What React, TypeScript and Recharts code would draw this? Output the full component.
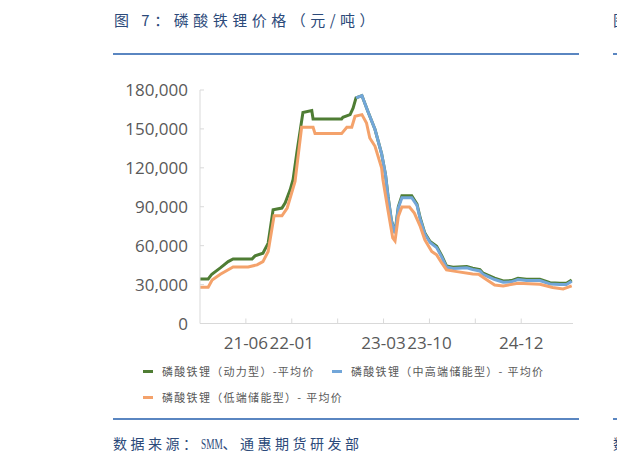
import { Line, LineChart, XAxis, YAxis } from 'recharts'

// 磷酸铁锂价格（元/吨）— x = months since 2020-11

const X_TICKS = [7, 14, 21, 28, 35, 42, 49]
const X_LABELS: Record<number, string> = { 7: '21-06', 14: '22-01', 28: '23-03', 35: '23-10', 49: '24-12' }
const Y_TICKS = [0, 30000, 60000, 90000, 120000, 150000, 180000]

const powerMonths = [
  0, 1.25, 1.8, 3.1, 4.3, 5.05, 7.95, 8.4, 9.6, 10.4, 11.15, 12.5, 13, 13.75, 14.2, 14.8, 15.7, 17.05, 17.25,
  21.6, 21.8, 22.9, 23.35, 23.8, 24.7, 25.6, 26.7, 27.7, 28.3, 28.7, 29.2, 29.75, 30.25, 30.8, 32.3, 33.1, 33.6,
  34.3, 35.1, 36.1, 36.9, 37.6, 38.6, 40.7, 41.6, 42.7, 43.2, 44.95, 46.25, 47.5, 48.5, 49.8, 51.85, 53.4, 54.9,
  55.9, 56.7,
]
const powerPrice = [
  34400, 34400, 38000, 42900, 47700, 49800, 49800, 52100, 54200, 62000, 87700, 89000, 93000, 103000, 111000,
  132700, 162600, 164100, 157700, 157700, 159000, 161000, 166000, 174000, 175700, 163600, 149500, 131000, 114700,
  97500, 79500, 70200, 90000, 98500, 98500, 92000, 81300, 69700, 63200, 59500, 52000, 44400, 43400, 43900, 42600,
  41500, 38800, 34900, 32800, 33100, 34900, 34100, 34100, 31500, 31000, 31000, 33600,
]

const storageHighMonths = [
  23.8, 24.7, 25.6, 26.7, 27.7, 28.3, 28.7, 29.2, 29.75, 30.25, 30.8, 32.3, 33.1, 33.6, 34.3, 35.1, 36.1, 36.9,
  37.6, 38.6, 40.7, 41.6, 42.7, 43.2, 44.95, 46.25, 47.5, 48.5, 49.8, 51.85, 53.4, 54.9, 55.9, 56.7,
]
const storageHighPrice = [
  174000, 175700, 163600, 149500, 131000, 114700, 97000, 79000, 69500, 89000, 97000, 97000, 91000, 80500, 69000,
  62500, 58500, 51000, 43500, 42400, 42900, 41600, 40500, 37800, 33900, 31800, 32100, 33900, 33100, 33100, 30500,
  30000, 30000, 32600,
]

const storageLowMonths = [
  0, 1.25, 1.85, 3.1, 5.05, 7.35, 8.7, 9.6, 10.4, 11.3, 12.5, 13.3, 14.5, 15.5, 17.25, 17.55, 21.6, 22.4, 23.15,
  23.65, 24.7, 25.4, 25.9, 26.7, 27.7, 27.9, 28.65, 29.4, 29.75, 30.25, 30.8, 31.95, 32.7, 33.6, 34.3, 35.35, 36.1,
  36.9, 37.6, 39.2, 41.6, 42.5, 43.5, 44.95, 46.25, 48.5, 51.85, 53.8, 55.4, 56.7,
]
const storageLowPrice = [
  28000, 28000, 33600, 38000, 43600, 43600, 45200, 47700, 55500, 83000, 83000, 89000, 109500, 151300, 151300,
  146400, 146400, 151300, 151300, 159800, 161000, 154600, 143000, 136600, 120100, 111000, 88000, 66000, 63700,
  82500, 89800, 89800, 85100, 74800, 64500, 55500, 52900, 46500, 41300, 40000, 38200, 38000, 34500, 29700, 29000,
  31000, 30300, 27700, 26700, 29000,
]

const SERIES = [
  { name: '磷酸铁锂（动力型）-平均价', color: '#4f7d34', months: powerMonths, prices: powerPrice },
  { name: '磷酸铁锂（中高端储能型）- 平均价', color: '#72a6d9', months: storageHighMonths, prices: storageHighPrice },
  { name: '磷酸铁锂（低端储能型）- 平均价', color: '#f4a26b', months: storageLowMonths, prices: storageLowPrice },
]

const toRows = (months: number[], prices: number[]) => months.map((m, i) => ({ m, v: prices[i] }))

const AXIS_GREY = '#d9d9d9'
const TEXT_GREY = '#595959'
const NAVY = '#2c4a7a'
const RULE = '#5a86c1'

function XTick({ x, y, payload }: any) {
  const label = X_LABELS[payload.value] ?? ''
  return (
    <g>
      <line x1={x} x2={x} y1={y - 5} y2={y} stroke={AXIS_GREY} />
      <text x={x} y={y + 25} textAnchor="middle" fill={TEXT_GREY} fontSize={17} fontFamily="Open Sans">
        {label}
      </text>
    </g>
  )
}

function YTick({ x, y, payload }: any) {
  return (
    <g>
      <line x1={x} x2={x + 4} y1={y} y2={y} stroke={AXIS_GREY} />
      <text x={x - 12} y={y} dy="0.36em" textAnchor="end" fill={TEXT_GREY} fontSize={17} fontFamily="Open Sans">
        {Number(payload.value).toLocaleString('en-US')}
      </text>
    </g>
  )
}

export default function App() {
  return (
    <div
      style={{
        position: 'absolute',
        left: 0,
        top: 0,
        width: 617,
        height: 459,
        overflow: 'hidden',
        background: '#fff',
        fontFamily: '"Noto Sans CJK SC", sans-serif',
      }}
    >
      <div style={{ position: 'absolute', left: 114, top: 9, fontSize: 15, letterSpacing: 4.5, color: NAVY, whiteSpace: 'nowrap' }}>
        图 7：磷酸铁锂价格（元/吨）
      </div>
      <div style={{ position: 'absolute', left: 613, top: 9, fontSize: 15, color: NAVY }}>图</div>
      <div style={{ position: 'absolute', left: 113, top: 53, width: 466, height: 2, background: RULE }} />
      <div style={{ position: 'absolute', left: 613, top: 53, width: 10, height: 2, background: RULE }} />

      <div style={{ position: 'absolute', left: 0, top: 0 }}>
        <LineChart width={617} height={459} margin={{ top: 90, right: 44, bottom: 105.5, left: 140 }}>
          <XAxis
            type="number"
            dataKey="m"
            domain={[0, 56.9]}
            ticks={X_TICKS}
            allowDataOverflow
            height={30}
            tickSize={0}
            tickMargin={0}
            tickLine={false}
            axisLine={{ stroke: AXIS_GREY }}
            tick={<XTick />}
            interval={0}
          />
          <YAxis
            type="number"
            domain={[0, 180000]}
            ticks={Y_TICKS}
            width={60}
            tickSize={0}
            tickMargin={0}
            tickLine={false}
            axisLine={{ stroke: AXIS_GREY }}
            tick={<YTick />}
            interval={0}
          />
          {SERIES.map((s) => (
            <Line
              key={s.name}
              data={toRows(s.months, s.prices)}
              dataKey="v"
              name={s.name}
              type="linear"
              stroke={s.color}
              strokeWidth={3}
              dot={false}
              isAnimationActive={false}
            />
          ))}
        </LineChart>
      </div>

      {SERIES.map((s, i) => {
        const pos = [
          { left: 143, top: 371 },
          { left: 332, top: 371 },
          { left: 143, top: 397 },
        ][i]
        return (
          <div key={s.name} style={{ position: 'absolute', ...pos, display: 'flex', alignItems: 'center', height: 0, whiteSpace: 'nowrap' }}>
            <span style={{ display: 'inline-block', width: 10, height: 3, background: s.color, marginRight: 9 }} />
            <span style={{ fontSize: 11, letterSpacing: 1.3, color: TEXT_GREY }}>{s.name}</span>
          </div>
        )
      })}

      <div style={{ position: 'absolute', left: 113, top: 418, width: 466, height: 2, background: RULE }} />
      <div style={{ position: 'absolute', left: 613, top: 418, width: 10, height: 2, background: RULE }} />
      <div style={{ position: 'absolute', left: 113, top: 433, fontSize: 14, letterSpacing: 3.5, color: NAVY, whiteSpace: 'nowrap' }}>
        数据来源：
        <span
          style={{
            display: 'inline-block',
            width: 22,
            fontFamily: '"Liberation Serif", serif',
            fontSize: 15,
            letterSpacing: 0,
            transform: 'scaleX(0.62)',
            transformOrigin: 'left center',
          }}
        >
          SMM
        </span>
        、通惠期货研发部
      </div>
      <div style={{ position: 'absolute', left: 613, top: 433, fontSize: 14, color: NAVY }}>数</div>
    </div>
  )
}
